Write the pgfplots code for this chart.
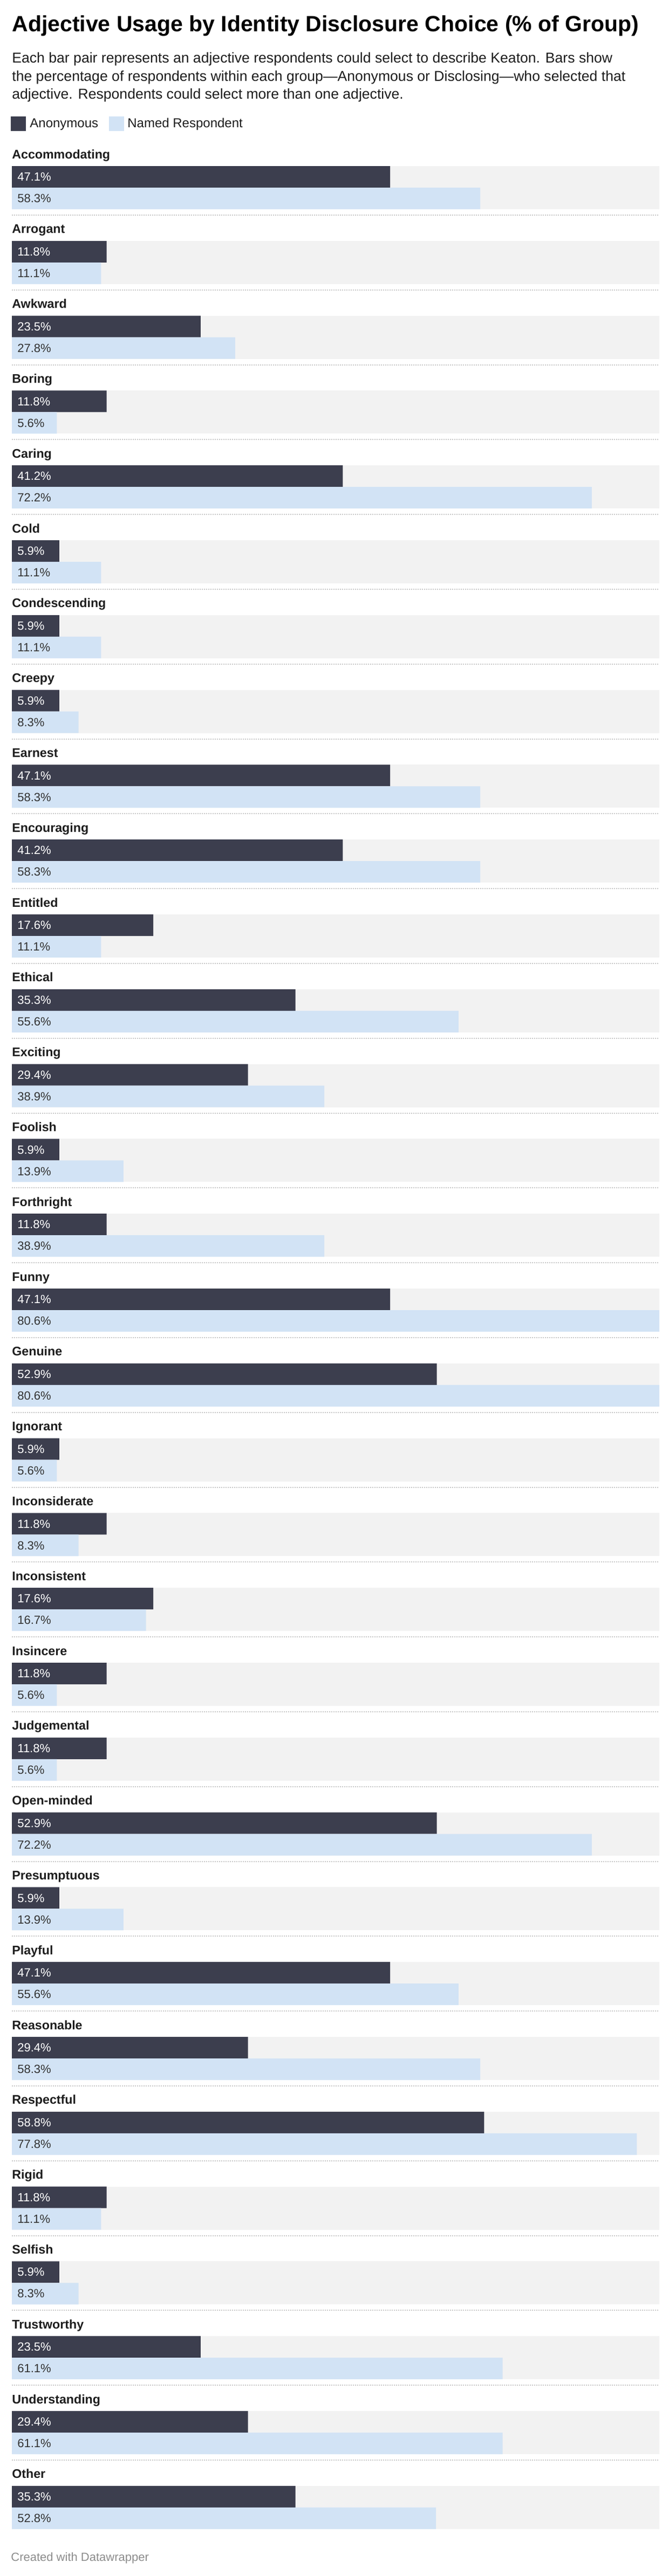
\documentclass[border=0pt]{standalone}
\usepackage{fontspec}
\setmainfont{Liberation Sans}
\usepackage{pgfplots}
\usepackage{pgfplotstable}
\pgfplotsset{compat=1.18}

\definecolor{anon}{HTML}{3C3E4E}
\definecolor{named}{HTML}{D2E3F5}
\definecolor{track}{HTML}{F2F2F2}
\definecolor{sepline}{HTML}{C8C8C8}
\definecolor{ink}{HTML}{1D1D1D}
\definecolor{lbl}{HTML}{333333}
\definecolor{foot}{HTML}{8C8C8C}

% share of each group (%) that picked the adjective
\pgfplotstableread{
idx label anon named
0 Accommodating 47.1 58.3
1 Arrogant 11.8 11.1
2 Awkward 23.5 27.8
3 Boring 11.8 5.6
4 Caring 41.2 72.2
5 Cold 5.9 11.1
6 Condescending 5.9 11.1
7 Creepy 5.9 8.3
8 Earnest 47.1 58.3
9 Encouraging 41.2 58.3
10 Entitled 17.6 11.1
11 Ethical 35.3 55.6
12 Exciting 29.4 38.9
13 Foolish 5.9 13.9
14 Forthright 11.8 38.9
15 Funny 47.1 80.6
16 Genuine 52.9 80.6
17 Ignorant 5.9 5.6
18 Inconsiderate 11.8 8.3
19 Inconsistent 17.6 16.7
20 Insincere 11.8 5.6
21 Judgemental 11.8 5.6
22 Open-minded 52.9 72.2
23 Presumptuous 5.9 13.9
24 Playful 47.1 55.6
25 Reasonable 29.4 58.3
26 Respectful 58.8 77.8
27 Rigid 11.8 11.1
28 Selfish 5.9 8.3
29 Trustworthy 23.5 61.1
30 Understanding 29.4 61.1
31 Other 35.3 52.8
}\adjdata

\newcommand{\pct}{\pgfmathprintnumber[fixed,fixed zerofill,precision=1,assume math mode=true]{\pgfplotspointmeta}\%}

\begin{document}
\begin{tikzpicture}
\path[use as bounding box] (0,0) rectangle (620pt,-2389pt);

% title block
\node[anchor=base west, inner sep=0pt, text=black, font=\bfseries\fontsize{20.5}{24}\selectfont]
  at (11pt,-29.5pt) {Adjective Usage by Identity Disclosure Choice (\% of Group)};
\node[anchor=base west, inner sep=0pt, text=ink, font=\fontsize{13.3}{17}\selectfont]
  at (11pt,-58.3pt) {Each bar pair represents an adjective respondents could select to describe Keaton. Bars show};
\node[anchor=base west, inner sep=0pt, text=ink, font=\fontsize{13.3}{17}\selectfont]
  at (11pt,-75.2pt) {the percentage of respondents within each group—Anonymous or Disclosing—who selected that};
\node[anchor=base west, inner sep=0pt, text=ink, font=\fontsize{13.3}{17}\selectfont]
  at (11pt,-91.8pt) {adjective. Respondents could select more than one adjective.};

% legend
\fill[anon] (10pt,-108pt) rectangle (24pt,-121.5pt);
\node[anchor=base west, inner sep=0pt, text=ink, font=\fontsize{12}{14}\selectfont]
  at (27.5pt,-118.5pt) {Anonymous};
\fill[named] (101pt,-108pt) rectangle (115pt,-121.5pt);
\node[anchor=base west, inner sep=0pt, text=ink, font=\fontsize{12}{14}\selectfont]
  at (118pt,-118.5pt) {Named Respondent};

\begin{axis}[
  at={(11pt,-139.3pt)}, anchor=north west,
  width=600pt, height=2220.8pt, scale only axis,
  xmin=0, xmax=80.6, ymin=-0.5, ymax=31.5, y dir=reverse,
  axis line style={draw=none}, tick style={draw=none},
  xtick=\empty,
  ytick={0,...,31},
  yticklabels from table={\adjdata}{label},
  yticklabel style={anchor=base west, inner sep=0pt, yshift=27pt, text=ink,
    font=\bfseries\fontsize{11.6}{14}\selectfont},
  clip=false,
]
% grey track behind each pair, dotted rule between groups
\pgfplotsinvokeforeach{0,...,31}{
  \fill[track] ([yshift=20pt]axis cs:0,#1) rectangle ([yshift=-20pt]axis cs:80.6,#1);
}
\pgfplotsinvokeforeach{0,...,30}{
  \draw[sepline, line width=1pt, dash pattern=on 1pt off 1pt]
    ([yshift=-25.5pt]axis cs:0,#1) -- ([yshift=-25.5pt]axis cs:80.6,#1);
}

\addplot[xbar, bar width=20pt, bar shift=0pt, fill=anon, draw=none]
  table[x=anon, y expr=\thisrow{idx}-0.1441] {\adjdata};
\addplot[xbar, bar width=20pt, bar shift=0pt, fill=named, draw=none]
  table[x=named, y expr=\thisrow{idx}+0.1441] {\adjdata};

% value labels at the start of each bar
\addplot[draw=none, mark=none, point meta=explicit,
  nodes near coords={\pct},
  nodes near coords align=horizontal,
  nodes near coords style={anchor=west, inner sep=0pt, xshift=5pt, text=white,
    font=\fontsize{11}{13}\selectfont}]
  table[x expr=0, y expr=\thisrow{idx}-0.1441, meta=anon] {\adjdata};
\addplot[draw=none, mark=none, point meta=explicit,
  nodes near coords={\pct},
  nodes near coords align=horizontal,
  nodes near coords style={anchor=west, inner sep=0pt, xshift=5pt, text=lbl,
    font=\fontsize{11}{13}\selectfont}]
  table[x expr=0, y expr=\thisrow{idx}+0.1441, meta=named] {\adjdata};
\end{axis}

\node[anchor=base west, inner sep=0pt, text=foot, font=\fontsize{11}{13}\selectfont]
  at (10pt,-2375pt) {Created with Datawrapper};
\end{tikzpicture}
\end{document}
